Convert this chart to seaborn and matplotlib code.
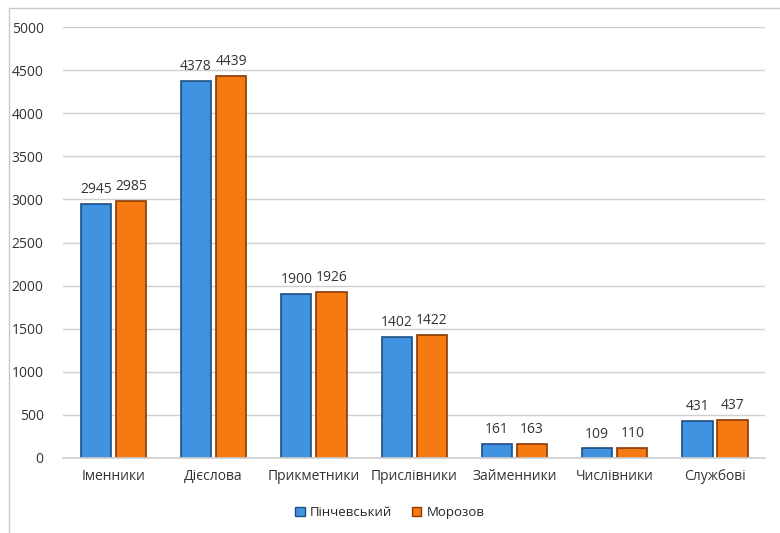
import matplotlib
matplotlib.use('Agg')
import pandas as pd
import matplotlib.pyplot as plt
import seaborn as sns
from matplotlib.patches import Rectangle

categories = ['Іменники', 'Дієслова', 'Прикметники', 'Прислівники', 'Займенники', 'Числівники', 'Службові']
series = ['Пінчевський', 'Морозов']
pinchevsky = [2945, 4378, 1900, 1402, 161, 109, 431]
morozov = [2985, 4439, 1926, 1422, 163, 110, 437]

df = pd.DataFrame({
    'cat': categories * 2,
    'who': [series[0]] * len(categories) + [series[1]] * len(categories),
    'val': pinchevsky + morozov,
})

sns.set_theme(style='white')
plt.rcParams['font.family'] = ['Open Sans', 'DejaVu Sans']

fig = plt.figure(figsize=(7.8, 5.33), dpi=100)
ax = fig.add_axes([0.081, 0.141, 0.90, 0.808])

palette = {series[0]: '#3f93e0', series[1]: '#f57a12'}
sns.barplot(data=df, x='cat', y='val', hue='who', palette=palette, width=0.7, gap=0.14,
            ax=ax, legend=False, saturation=1)

edges = {series[0]: '#1d4f80', series[1]: '#8a3a05'}
for container, name in zip(ax.containers, series):
    for bar in container:
        bar.set_edgecolor(edges[name])
        bar.set_linewidth(1.2)
    ax.bar_label(container, padding=5, fontsize=10, color='#333333')

ax.set_ylim(0, 5000)
ax.set_yticks(range(0, 5001, 500))
ax.set_xlim(-0.5, len(categories) - 0.5)
ax.yaxis.grid(True, color='#d0d0d0', linewidth=1)
ax.set_axisbelow(True)
for s in ['top', 'right', 'left']:
    ax.spines[s].set_visible(False)
ax.spines['bottom'].set_color('#d0d0d0')
ax.tick_params(axis='y', labelsize=10, colors='#333333', length=0, pad=14)
ax.tick_params(axis='x', labelsize=10, colors='#333333', length=0, pad=8)
ax.set_xlabel('')
ax.set_ylabel('')

handles = [Rectangle((0, 0), 1, 1, facecolor=palette[n], edgecolor=edges[n]) for n in series]
fig.legend(handles, series, loc='center', bbox_to_anchor=(0.5, 0.038), ncol=2, frameon=False,
           fontsize=9.5, handlelength=0.7, handleheight=0.7, columnspacing=1.5, handletextpad=0.4)

fig.patches.append(Rectangle((0.011, -0.01), 0.99, 0.995, transform=fig.transFigure,
                             fill=False, edgecolor='#c8c8c8', linewidth=1))

fig.savefig('out.png', dpi=100)
